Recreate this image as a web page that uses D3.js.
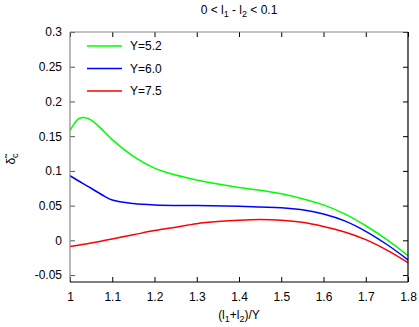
<!DOCTYPE html>
<html><head><meta charset="utf-8">
<script src="https://cdn.jsdelivr.net/npm/d3@7"></script>
<style>body{margin:0;background:#fff}svg{display:block;font-family:"Liberation Sans",Arial,sans-serif}</style>
</head><body><svg id="c" width="419" height="327"></svg>
<script>
const xTicks = [1, 1.1, 1.2, 1.3, 1.4, 1.5, 1.6, 1.7, 1.8];
const yTicks = [-0.05, 0, 0.05, 0.1, 0.15, 0.2, 0.25, 0.3];
const seriesNames = ["Y=5.2", "Y=6.0", "Y=7.5"];
const seriesColors = ["#00ff00", "#0000ff", "#ff0000"];
const green = [[1.00,0.158],[1.01,0.168],[1.02,0.175],[1.03,0.177],[1.04,0.176],[1.05,0.173],[1.07,0.163],[1.10,0.145],[1.15,0.121],[1.20,0.104],[1.25,0.094],[1.30,0.087],[1.35,0.081],[1.40,0.076],[1.45,0.072],[1.50,0.067],[1.55,0.060],[1.60,0.051],[1.65,0.038],[1.70,0.021],[1.75,0.001],[1.80,-0.022]];
const blue = [[1.00,0.093],[1.03,0.082],[1.05,0.075],[1.08,0.064],[1.10,0.058],[1.15,0.053],[1.20,0.051],[1.30,0.050],[1.40,0.049],[1.45,0.048],[1.50,0.047],[1.55,0.044],[1.60,0.038],[1.65,0.028],[1.70,0.013],[1.75,-0.006],[1.80,-0.028]];
const red = [[1.00,-0.009],[1.05,-0.004],[1.10,0.002],[1.15,0.008],[1.20,0.014],[1.25,0.019],[1.30,0.024],[1.35,0.027],[1.40,0.029],[1.45,0.030],[1.50,0.029],[1.55,0.026],[1.60,0.020],[1.65,0.012],[1.70,0.001],[1.75,-0.014],[1.80,-0.032]];
const series = [green, blue, red];

const L = 70, R = 408, T = 32, B = 282;
const FS = 12;
const svg = d3.select("#c");
const x = d3.scaleLinear().domain([1, 1.8]).range([L, R]);
const y = d3.scaleLinear().domain([-0.06, 0.3]).range([B, T]);

const fmt = d => String(+d.toFixed(2));
const tl = 5;
svg.append("g").attr("transform", `translate(0,${B})`)
  .call(d3.axisBottom(x).tickValues(xTicks).tickSize(-tl).tickPadding(10).tickFormat(fmt))
  .call(g => { g.select(".domain").remove(); g.selectAll("line").attr("stroke", "#000");
    g.selectAll("text").attr("font-size", FS).attr("font-family", "Liberation Sans, Arial, sans-serif").attr("fill", "#000"); });
svg.append("g").attr("transform", `translate(0,${T})`)
  .call(d3.axisTop(x).tickValues(xTicks).tickSize(-tl).tickFormat(""))
  .call(g => { g.select(".domain").remove(); g.selectAll("line").attr("stroke", "#000"); });
svg.append("g").attr("transform", `translate(${L},0)`)
  .call(d3.axisLeft(y).tickValues(yTicks).tickSize(-tl).tickPadding(8).tickFormat(fmt))
  .call(g => { g.select(".domain").remove(); g.selectAll("line").attr("stroke", "#555");
    g.selectAll("text").attr("font-size", FS).attr("font-family", "Liberation Sans, Arial, sans-serif").attr("fill", "#000"); });
svg.append("g").attr("transform", `translate(${R},0)`)
  .call(d3.axisRight(y).tickValues(yTicks).tickSize(-tl).tickFormat(""))
  .call(g => { g.select(".domain").remove(); g.selectAll("line").attr("stroke", "#000"); });

const line = d3.line().x(d => x(d[0])).y(d => y(d[1])).curve(d3.curveCatmullRom);
series.forEach((s, i) => {
  svg.append("path").datum(s).attr("d", line).attr("fill", "none")
    .attr("stroke", seriesColors[i]).attr("stroke-width", 1.5);
});

svg.append("line").attr("x1", L).attr("x2", R).attr("y1", T).attr("y2", T).attr("stroke", "#888").attr("stroke-width", 1.2);
svg.append("line").attr("x1", L).attr("x2", L).attr("y1", T).attr("y2", B).attr("stroke", "#888").attr("stroke-width", 1.2);
svg.append("line").attr("x1", R).attr("x2", R).attr("y1", T).attr("y2", B).attr("stroke", "#000").attr("stroke-width", 1.2);
svg.append("line").attr("x1", L).attr("x2", R).attr("y1", B).attr("y2", B).attr("stroke", "#000").attr("stroke-width", 1.2);

seriesNames.forEach((n, i) => {
  const ly = 46 + i * 22.5;
  svg.append("line").attr("x1", 87).attr("x2", 122).attr("y1", ly).attr("y2", ly)
    .attr("stroke", seriesColors[i]).attr("stroke-width", 1.5);
  svg.append("text").attr("x", 130).attr("y", ly).attr("dy", "0.36em")
    .attr("font-size", FS).text(n);
});

const title = svg.append("text").attr("x", 239).attr("y", 14).attr("text-anchor", "middle").attr("font-size", FS);
title.append("tspan").text("0 < l");
title.append("tspan").attr("dy", 3).attr("font-size", 9).text("1");
title.append("tspan").attr("dy", -3).text(" - l");
title.append("tspan").attr("dy", 3).attr("font-size", 9).text("2");
title.append("tspan").attr("dy", -3).text(" < 0.1");

const xl = svg.append("text").attr("x", 239).attr("y", 319).attr("text-anchor", "middle").attr("font-size", FS);
xl.append("tspan").text("(l");
xl.append("tspan").attr("dy", 3).attr("font-size", 9).text("1");
xl.append("tspan").attr("dy", -3).text("+l");
xl.append("tspan").attr("dy", 3).attr("font-size", 9).text("2");
xl.append("tspan").attr("dy", -3).text(")/Y");

const yl = svg.append("text").attr("transform", "translate(15,159) rotate(-90)").attr("text-anchor", "middle").attr("font-size", FS);
yl.append("tspan").text("\u03B4\u0303");
yl.append("tspan").attr("dy", 3).attr("font-size", 9).text("c");
</script></body></html>
